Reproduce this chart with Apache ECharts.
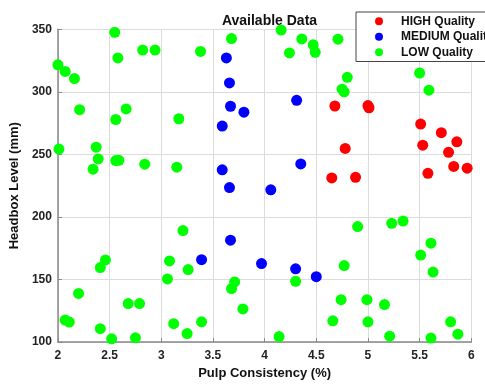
<!DOCTYPE html>
<html>
<head>
<meta charset="utf-8">
<script src="https://cdn.jsdelivr.net/npm/echarts@6/dist/echarts.min.js"></script>
<style>html,body{margin:0;padding:0;background:#fff}#c{width:485px;height:385px}</style>
</head>
<body>
<div id="c"></div>
<script>
var seriesNames = ['HIGH Quality', 'MEDIUM Quality', 'LOW Quality'];
var xTicks = [2, 2.5, 3, 3.5, 4, 4.5, 5, 5.5, 6];
var yTicks = [100, 150, 200, 250, 300, 350];

var highData = [
  [4.68,288.7],[5.00,289.0],[5.01,287.3],[5.51,274.3],[5.71,267.4],[5.53,257.4],
  [5.86,260.1],[5.78,251.7],[4.78,254.8],[5.83,240.4],[5.96,239.0],[5.58,234.9],
  [4.65,231.2],[4.88,231.7]
];
var mediumData = [
  [3.63,327.1],[3.66,307.1],[3.67,288.5],[3.80,283.8],[3.59,272.7],[3.59,237.7],
  [3.66,223.5],[4.31,293.2],[4.35,242.4],[4.06,221.7],[3.39,165.9],[3.67,181.5],
  [3.97,162.8],[4.30,158.6],[4.50,152.3]
];
var lowData = [
  [2.55,347.6],[2.00,321.6],[2.07,316.3],[2.16,310.6],[2.58,327.1],[2.82,333.4],
  [2.94,333.4],[3.38,332.3],[3.68,342.6],[2.21,285.8],[2.66,286.4],[2.56,277.9],
  [3.17,278.5],[2.01,254.3],[2.37,255.8],[2.39,246.4],[2.34,238.2],[2.56,245.1],
  [2.59,245.3],[2.84,242.2],[3.15,239.8],
  [4.16,349.4],[4.36,342.3],[4.47,337.6],[4.71,342.1],[4.24,331.1],[4.49,331.6],
  [5.50,315.0],[4.80,311.6],[4.75,302.1],[4.77,300.0],[5.59,301.3],
  [3.21,189.1],[2.46,165.7],[2.41,159.6],[3.08,164.9],[3.26,158.0],[3.06,150.5],
  [3.71,148.1],[3.68,142.8],[2.20,138.9],[2.68,130.8],[2.79,130.8],[3.79,126.5],
  [2.07,117.6],[2.11,116.0],[2.41,110.7],[3.12,114.7],[3.39,116.2],[3.25,106.8],
  [2.52,102.6],[2.75,103.4],
  [4.90,192.3],[5.23,194.9],[5.34,196.7],[5.61,179.1],[5.51,169.6],[4.77,161.2],
  [5.63,156.0],[4.30,148.6],[4.74,133.9],[4.99,133.9],[5.16,130.0],[4.66,117.0],
  [5.00,116.2],[5.80,116.2],[5.87,106.3],[4.14,104.4],[5.21,104.7],[5.61,103.2]
];
var colors = ['#ff0000', '#0000ff', '#00ff00'];

var font = 'Liberation Sans, Arial, sans-serif';
var chart = echarts.init(document.getElementById('c'), null, {renderer: 'canvas'});
function mk(name, data, color) {
  return {
    name: name, type: 'scatter', data: data, symbol: 'circle', symbolSize: 11,
    itemStyle: {color: color, opacity: 1}, clip: false
  };
}
chart.setOption({
  animation: false,
  backgroundColor: '#fff',
  title: {
    text: 'Available Data', left: 264.5, top: 9, textAlign: 'center',
    textStyle: {fontFamily: font, fontSize: 14, fontWeight: 'bold', color: '#111'}
  },
  legend: {
    data: seriesNames, orient: 'vertical', left: 356, top: 12,
    icon: 'circle', itemWidth: 8, itemHeight: 8, itemGap: 3,
    padding: [3, 40, 3, 19],
    borderColor: '#444', borderWidth: 1, backgroundColor: '#fff',
    textStyle: {fontFamily: font, fontSize: 12, fontWeight: 'bold', color: '#111', padding: [0, 0, 0, 13], lineHeight: 12.5}
  },
  grid: {left: 57.3, right: 13.7, top: 29.3, bottom: 38.3, containLabel: false},
  xAxis: {
    type: 'value', min: 2, max: 6, interval: 0.5,
    name: 'Pulp Consistency (%)', nameLocation: 'middle', nameGap: 24,
    nameTextStyle: {fontFamily: font, fontSize: 13, fontWeight: 'bold', color: '#111'},
    axisLine: {show: true, onZero: false, lineStyle: {color: '#888', width: 1.5}},
    axisTick: {show: true, inside: true, length: 4, lineStyle: {color: '#888'}},
    axisLabel: {fontFamily: font, fontSize: 12, fontWeight: 'bold', color: '#222', margin: 8,
      formatter: function (v) { return String(v); }},
    splitLine: {show: true, lineStyle: {color: '#dcdcdc', width: 1}}
  },
  yAxis: {
    type: 'value', min: 100, max: 350, interval: 50,
    name: 'Headbox Level (mm)', nameLocation: 'middle', nameGap: 32,
    nameTextStyle: {fontFamily: font, fontSize: 13, fontWeight: 'bold', color: '#111'},
    axisLine: {show: true, onZero: false, lineStyle: {color: '#888', width: 1.5}},
    axisTick: {show: true, inside: true, length: 4, lineStyle: {color: '#888'}},
    axisLabel: {fontFamily: font, fontSize: 12, fontWeight: 'bold', color: '#222', margin: 6},
    splitLine: {show: true, lineStyle: {color: '#dcdcdc', width: 1}}
  },
  series: [
    mk(seriesNames[2], lowData, colors[2]),
    mk(seriesNames[1], mediumData, colors[1]),
    mk(seriesNames[0], highData, colors[0])
  ]
});
</script>
</body>
</html>
